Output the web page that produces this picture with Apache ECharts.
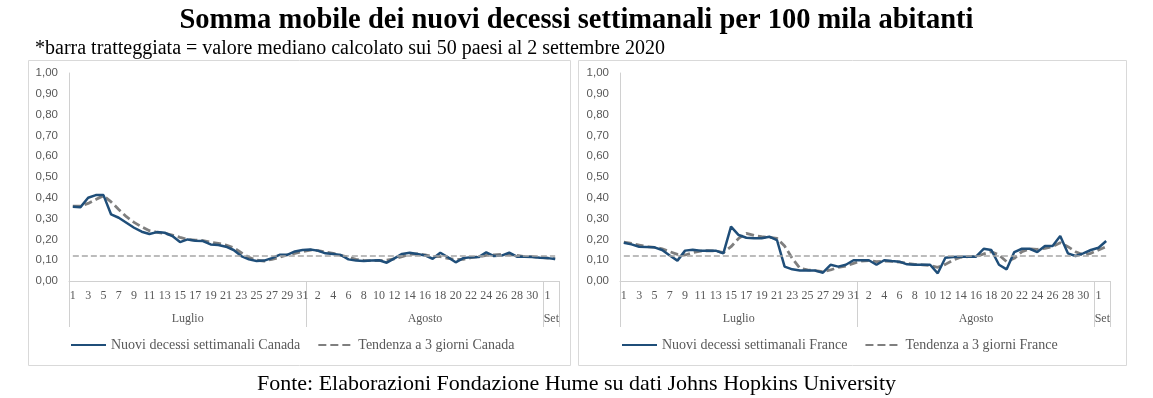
<!DOCTYPE html>
<html>
<head>
<meta charset="utf-8">
<script src="https://cdn.jsdelivr.net/npm/echarts@6/dist/echarts.min.js"></script>
<style>
  html, body { margin: 0; padding: 0; background: #fff; }
  #chart { width: 1153px; height: 398px; }
</style>
</head>
<body>
<div id="chart"></div>
<script>
const months = ['Luglio', 'Agosto', 'Set'];
const monthDays = [31, 31, 2];
const median = 0.12;

const canadaWeekly = [
  0.357, 0.355, 0.400, 0.413, 0.413, 0.320, 0.304, 0.280, 0.256, 0.237, 0.226, 0.235, 0.232, 0.216, 0.187, 0.200,
  0.194, 0.192, 0.176, 0.173, 0.165, 0.149, 0.120, 0.104, 0.096, 0.098, 0.110, 0.126, 0.126, 0.142, 0.149,
  0.151, 0.146, 0.133, 0.130, 0.125, 0.104, 0.098, 0.096, 0.099, 0.100, 0.088, 0.109, 0.130, 0.136, 0.130, 0.123,
  0.107, 0.136, 0.114, 0.090, 0.110, 0.114, 0.115, 0.138, 0.120, 0.122, 0.136, 0.117, 0.117, 0.115, 0.112,
  0.110, 0.106
];
const canadaTrend = [
  0.360, 0.360, 0.373, 0.392, 0.410, 0.380, 0.344, 0.309, 0.282, 0.260, 0.242, 0.234, 0.229, 0.221, 0.210, 0.200,
  0.197, 0.194, 0.186, 0.181, 0.173, 0.160, 0.136, 0.114, 0.100, 0.096, 0.104, 0.114, 0.125, 0.133, 0.141,
  0.149, 0.146, 0.139, 0.133, 0.123, 0.114, 0.104, 0.099, 0.098, 0.098, 0.100, 0.106, 0.117, 0.128, 0.130, 0.126,
  0.117, 0.117, 0.109, 0.104, 0.104, 0.112, 0.117, 0.123, 0.126, 0.128, 0.126, 0.123, 0.117, 0.117, 0.114,
  0.110, 0.107
];
const franceWeekly = [
  0.184, 0.176, 0.165, 0.163, 0.162, 0.149, 0.123, 0.098, 0.146, 0.150, 0.146, 0.146, 0.146, 0.133, 0.261, 0.221,
  0.208, 0.206, 0.206, 0.213, 0.197, 0.069, 0.056, 0.050, 0.051, 0.050, 0.040, 0.078, 0.069, 0.078, 0.100,
  0.100, 0.100, 0.078, 0.100, 0.096, 0.093, 0.080, 0.078, 0.078, 0.078, 0.037, 0.112, 0.115, 0.117, 0.117, 0.117,
  0.155, 0.149, 0.078, 0.056, 0.139, 0.155, 0.155, 0.139, 0.168, 0.168, 0.216, 0.133, 0.120, 0.133, 0.149,
  0.160, 0.192
];
const franceTrend = [
  0.187, 0.181, 0.173, 0.165, 0.162, 0.155, 0.141, 0.128, 0.125, 0.136, 0.144, 0.146, 0.144, 0.136, 0.165, 0.205,
  0.229, 0.219, 0.213, 0.210, 0.205, 0.168, 0.109, 0.061, 0.053, 0.050, 0.045, 0.053, 0.066, 0.072, 0.085,
  0.096, 0.098, 0.093, 0.096, 0.094, 0.091, 0.085, 0.080, 0.078, 0.074, 0.066, 0.080, 0.100, 0.114, 0.117, 0.117,
  0.130, 0.141, 0.125, 0.093, 0.109, 0.141, 0.155, 0.152, 0.157, 0.165, 0.184, 0.165, 0.141, 0.125, 0.133,
  0.149, 0.165
];

// day labels + month boundaries
const days = [];
const bounds = [0];
const mids = [];
monthDays.forEach((n, m) => {
  for (let d = 1; d <= n; d++) days.push(String(d));
  mids.push(bounds[m] + n / 2);
  bounds.push(bounds[m] + n);
});
const total = days.length;

const SERIF = '"Liberation Serif", "DejaVu Serif", serif';
const SANS = '"Liberation Sans", Arial, sans-serif';
const GRAY = '#595959';
const LINE = '#d0d0d0';

const panels = [
  { name: 'Canada', weekly: canadaWeekly, trend: canadaTrend, left: 69, box: 28 },
  { name: 'France', weekly: franceWeekly, trend: franceTrend, left: 620, box: 578 }
];

const grid = [], xAxis = [], yAxis = [], series = [], legend = [], graphic = [];
panels.forEach((p, i) => {
  grid.push({ left: p.left, top: 73, width: 490, height: 208 });
  xAxis.push({
    type: 'category', gridIndex: i, data: days, boundaryGap: true,
    axisLine: { lineStyle: { color: LINE } },
    axisTick: { show: false },
    axisLabel: { interval: 1, color: GRAY, fontFamily: SERIF, fontSize: 12, margin: 9 }
  });
  xAxis.push({
    type: 'value', gridIndex: i, min: 0, max: total, position: 'bottom',
    axisLine: { show: false },
    splitLine: { show: false },
    axisTick: { show: true, length: 46, lineStyle: { color: LINE }, customValues: bounds },
    axisLabel: {
      color: GRAY, fontFamily: SERIF, fontSize: 12, margin: 32,
      customValues: mids,
      formatter: v => months[mids.indexOf(v)]
    }
  });
  yAxis.push({
    type: 'value', gridIndex: i, min: 0, max: 1, interval: 0.1,
    axisLine: { show: true, lineStyle: { color: LINE } },
    axisTick: { show: false },
    splitLine: { show: false },
    axisLabel: {
      color: GRAY, fontFamily: SANS, fontSize: 11.5, margin: 11,
      formatter: v => v.toFixed(2).replace('.', ',')
    }
  });
  const weeklyName = 'Nuovi decessi settimanali ' + p.name;
  const trendName = 'Tendenza a 3 giorni ' + p.name;
  series.push({
    name: weeklyName, type: 'line', xAxisIndex: i * 2, yAxisIndex: i,
    data: p.weekly, symbol: 'none', z: 3,
    lineStyle: { color: '#1f4e79', width: 2.5 }, itemStyle: { color: '#1f4e79' },
    markLine: {
      silent: true, symbol: 'none', label: { show: false },
      lineStyle: { color: '#a6a6a6', width: 1.5, type: [6, 3] },
      data: [[{ coord: [0, median] }, { coord: [total - 1, median] }]]
    }
  });
  series.push({
    name: trendName, type: 'line', xAxisIndex: i * 2, yAxisIndex: i,
    data: p.trend, symbol: 'none', z: 2,
    lineStyle: { color: '#7f7f7f', width: 2.8, type: [8, 4] }, itemStyle: { color: '#7f7f7f' }
  });
  legend.push({
    data: [weeklyName, trendName], left: p.left - 4, top: 333,
    itemWidth: 35, itemHeight: 10, itemGap: 17,
    itemStyle: { opacity: 0 },
    textStyle: { color: GRAY, fontFamily: SERIF, fontSize: 14 }
  });
  graphic.push({
    type: 'rect', shape: { x: p.box + 0.5, y: 60.5, width: 548 - (i ? 0 : 6), height: 305 },
    style: { fill: 'none', stroke: '#d9d9d9', lineWidth: 1 }, silent: true, z: -1
  });
});

const chart = echarts.init(document.getElementById('chart'), null, { renderer: 'canvas' });
chart.setOption({
  animation: false,
  title: [
    {
      text: 'Somma mobile dei nuovi decessi settimanali per 100 mila abitanti',
      left: 'center', top: 1,
      textStyle: { fontFamily: SERIF, fontWeight: 'bold', fontSize: 28.5, color: '#000' }
    },
    {
      text: '*barra tratteggiata = valore mediano calcolato sui 50 paesi al 2 settembre 2020',
      left: 30, top: 34,
      textStyle: { fontFamily: SERIF, fontWeight: 'normal', fontSize: 20, color: '#000' }
    },
    {
      text: 'Fonte: Elaborazioni Fondazione Hume su dati Johns Hopkins University',
      left: 'center', top: 368,
      textStyle: { fontFamily: SERIF, fontWeight: 'normal', fontSize: 22, color: '#000' }
    }
  ],
  grid, xAxis, yAxis, series, legend, graphic
});
</script>
</body>
</html>
